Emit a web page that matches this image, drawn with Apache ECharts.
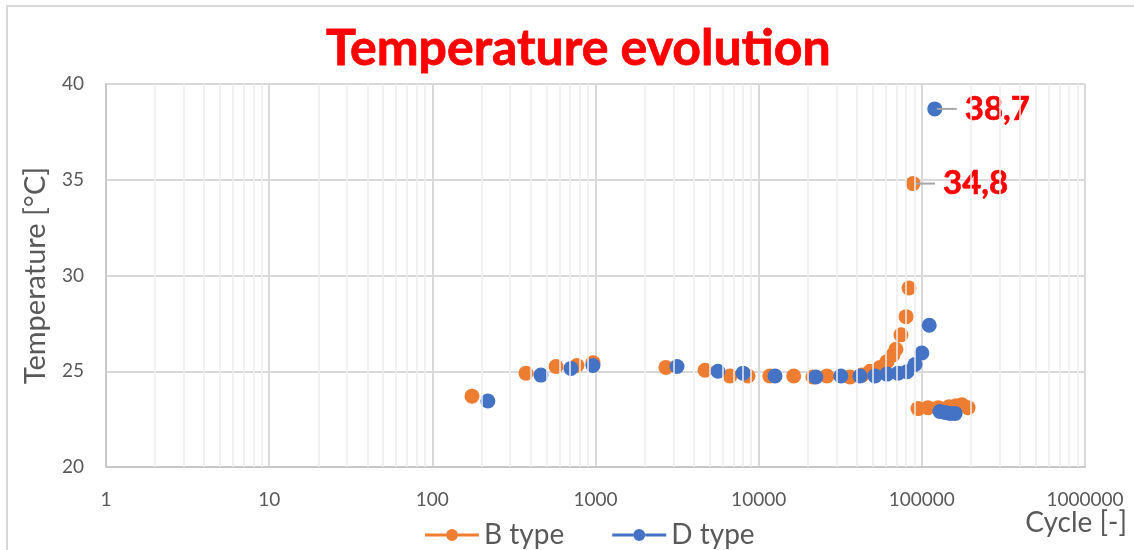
<!DOCTYPE html>
<html>
<head>
<meta charset="utf-8">
<title>Temperature evolution</title>
<script src="https://cdn.jsdelivr.net/npm/echarts@6/dist/echarts.min.js"></script>
<style>
  html, body { margin: 0; padding: 0; background: #ffffff; }
  #chart { width: 1134px; height: 550px; }
</style>
</head>
<body>
<div id="chart"></div>
<script>
// Cycle counts and measured temperatures per specimen type
const bCycles = [175, 375, 573, 770, 965, 2700, 4690, 6670, 8600, 11700, 16400, 21500, 26200, 36300,
  43000, 48200, 55400, 61100, 66500, 69400, 74500, 80000, 83400, 88300,
  94700, 109000, 126000, 147000, 162000, 176000, 192000];
const bTemps = [23.7, 24.9, 25.25, 25.3, 25.45, 25.2, 25.05, 24.75, 24.75, 24.75, 24.75, 24.7, 24.75, 24.7,
  24.8, 25.0, 25.2, 25.5, 25.85, 26.15, 26.9, 27.85, 29.35, 34.8,
  23.05, 23.1, 23.1, 23.15, 23.2, 23.25, 23.1];

const dCycles = [219, 463, 707, 965, 3160, 5630, 8020, 12600, 22400, 31900, 41800, 51600,
  61100, 71400, 81100, 90800, 100000, 111000, 120000, 129000, 139000, 149000, 160000];
const dTemps = [23.45, 24.8, 25.15, 25.3, 25.25, 25.0, 24.9, 24.75, 24.7, 24.75, 24.75, 24.75,
  24.85, 24.9, 24.98, 25.35, 25.95, 27.4, 38.7, 22.9, 22.85, 22.8, 22.8];

const seriesNames = ['B type', 'D type'];
const seriesColors = ['#ED7D31', '#4472C4'];
const xTickLabels = ['1', '10', '100', '1000', '10000', '100000', '1000000'];
const yTickLabels = ['20', '25', '30', '35', '40'];

const TEXT_GREY = '#595959';
const FONT = 'Lato, "Liberation Sans", Arial, sans-serif';

// Intermediate log gridlines at 2..9 of every decade
const minorGrid = [];
for (let d = 0; d < 6; d++) {
  for (let k = 2; k <= 9; k++) minorGrid.push(k * Math.pow(10, d));
}

// Peak value of each series carries a value label with a short leader
function buildPoints(xs, ys) {
  const peak = Math.max.apply(null, ys);
  return xs.map((x, i) => {
    const item = { value: [x, ys[i]] };
    if (ys[i] === peak) {
      item.label = {
        show: true,
        position: 'right',
        distance: -5.5,
        textBorderWidth: 0,
        formatter: p => '{ln|}{gap|}{v|' + p.value[1].toFixed(1).replace('.', ',') + '}',
        rich: {
          ln: { width: 20, height: 2, backgroundColor: '#a6a6a6', verticalAlign: 'middle' },
          gap: { width: 8, height: 2 },
          v: {
            fontSize: 33, fontWeight: 'bold', color: '#FF0000', fontFamily: FONT,
            verticalAlign: 'middle', textBorderColor: '#FF0000', textBorderWidth: 0.6
          }
        }
      };
    }
    return item;
  });
}

// Line-with-marker legend glyph (line pieces kept clear of the dot)
const legendIcon = 'path://M0,4.5h21v3h-21z M33,4.5h21v3h-21z M27,0a6,6 0 1 1 -0.001,0z';

const chart = echarts.init(document.getElementById('chart'), null, { renderer: 'canvas' });
chart.setOption({
  animation: false,
  backgroundColor: '#ffffff',
  textStyle: { fontFamily: FONT },
  title: {
    text: 'Temperature evolution',
    left: 321,
    top: 19,
    textStyle: {
      color: '#FF0000', fontSize: 50, fontWeight: 'bold', fontFamily: FONT,
      textBorderColor: '#FF0000', textBorderWidth: 0.8
    }
  },
  graphic: [{
    type: 'rect',
    z: -10,
    silent: true,
    shape: { x: 7, y: 6, width: 1150, height: 570 },
    style: { fill: 'none', stroke: '#d9d9d9', lineWidth: 2 }
  }],
  legend: {
    data: seriesNames,
    left: 420,
    top: 516,
    itemGap: 48,
    itemWidth: 54,
    itemHeight: 12,
    icon: legendIcon,
    textStyle: { color: TEXT_GREY, fontSize: 28, fontFamily: FONT }
  },
  grid: { left: 106, right: 49, top: 84, bottom: 83 },
  xAxis: {
    type: 'log',
    logBase: 10,
    min: 1,
    max: 1000000,
    name: 'Cycle [-]',
    nameLocation: 'end',
    nameGap: 42,
    nameTextStyle: {
      color: TEXT_GREY, fontSize: 28, fontFamily: FONT,
      align: 'right', verticalAlign: 'top', padding: [42, 0, 0, 0]
    },
    axisLine: { show: true, lineStyle: { color: '#c8c8c8', width: 2 } },
    axisTick: { show: false },
    axisLabel: {
      color: TEXT_GREY, fontSize: 19, margin: 23, fontFamily: FONT,
      formatter: (v, i) => xTickLabels[i]
    },
    splitLine: { show: true, lineStyle: { color: '#d9d9d9', width: 2 } }
  },
  yAxis: {
    type: 'value',
    min: 20,
    max: 40,
    interval: 5,
    name: 'Temperature [°C]',
    nameLocation: 'middle',
    nameGap: 56,
    nameTextStyle: { color: TEXT_GREY, fontSize: 29, fontFamily: FONT },
    axisLine: { show: true, lineStyle: { color: '#c8c8c8', width: 2 } },
    axisTick: { show: false },
    axisLabel: {
      color: TEXT_GREY, fontSize: 19, margin: 22, fontFamily: FONT,
      formatter: (v, i) => yTickLabels[i]
    },
    splitLine: { show: true, lineStyle: { color: '#d9d9d9', width: 2 } }
  },
  series: [
    {
      type: 'scatter',
      silent: true,
      z: 1,
      data: [],
      markLine: {
        silent: true,
        symbol: 'none',
        label: { show: false },
        lineStyle: { color: '#eeeeee', width: 1.5, type: 'solid' },
        data: minorGrid.map(v => ({ xAxis: v }))
      }
    },
    {
      name: seriesNames[0],
      type: 'scatter',
      symbol: 'circle',
      symbolSize: 15,
      itemStyle: { color: seriesColors[0], opacity: 1 },
      data: buildPoints(bCycles, bTemps)
    },
    {
      name: seriesNames[1],
      type: 'scatter',
      symbol: 'circle',
      symbolSize: 15,
      itemStyle: { color: seriesColors[1], opacity: 1 },
      data: buildPoints(dCycles, dTemps)
    }
  ]
});
</script>
</body>
</html>
